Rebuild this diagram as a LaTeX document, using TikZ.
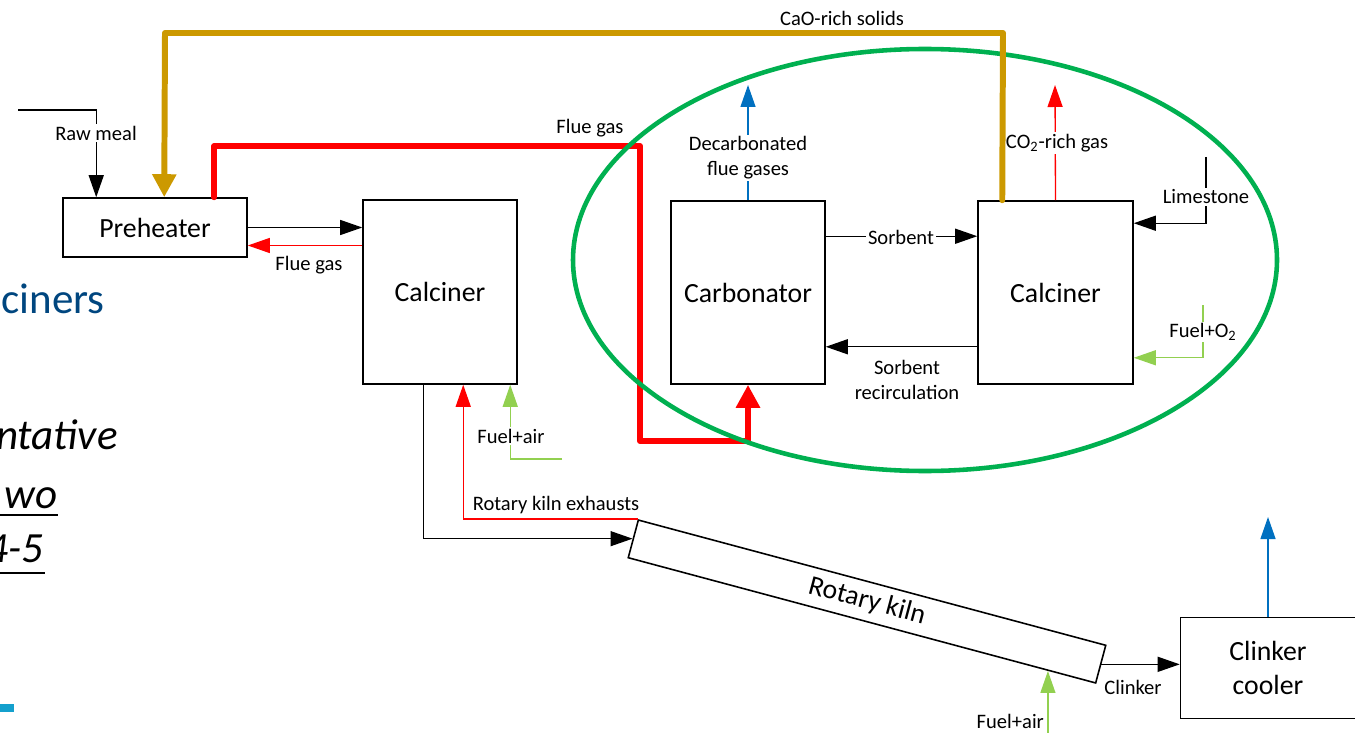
\documentclass[tikz,border=0pt]{standalone}
\usepackage{fontspec}
\setmainfont{Carlito}
\usetikzlibrary{arrows.meta,calc}

\definecolor{FlueRed}{RGB}{255,0,0}
\definecolor{SolidGold}{RGB}{204,153,0}
\definecolor{LoopGreen}{RGB}{0,176,80}
\definecolor{FuelGreen}{RGB}{146,208,80}
\definecolor{VentBlue}{RGB}{0,112,192}
\definecolor{SlideBlue}{RGB}{0,70,127}
\definecolor{SlideCyan}{RGB}{20,160,205}

\begin{document}
\begin{tikzpicture}[
    x=0.02cm, y=-0.02cm,
    unit/.style={draw, line width=0.9pt, fill=white, align=center, inner sep=0pt, font=\fontsize{15.8}{19.3}\selectfont},
    note/.style={align=center, inner sep=1pt, font=\fontsize{11.7}{14.2}\selectfont},
    online/.style={note, fill=white},
    slide/.style={anchor=base east, inner sep=0pt, font=\fontsize{24.5}{29}\selectfont\itshape},
    flow/.style={line width=0.75pt, -{Triangle[length=0.44cm, width=0.3cm]}},
    gasflow/.style={flow, FlueRed},
    fuelflow/.style={flow, FuelGreen},
    ventflow/.style={flow, VentBlue},
    fluepipe/.style={line width=3.4pt, FlueRed, line join=round, line cap=round, -{Triangle[length=0.46cm, width=0.46cm]}},
    solidpipe/.style={line width=3.4pt, SolidGold, line join=round, line cap=round, -{Triangle[length=0.46cm, width=0.46cm]}},
    ring/.style={line width=2.6pt, LoopGreen}
  ]
    \useasboundingbox (0,0) rectangle (1355,733);

    % slide behind the figure
    \node[slide, font=\fontsize{24.5}{29}\selectfont, text=SlideBlue] (slidetitle) at (105,313) {ciners};
    \node[slide] (slideA) at (118,449) {ntative};
    \node[slide] (slideB) at (58,508) {wo};
    \node[slide] (slideC) at (44,562) {4-5};
    \draw[line width=1.6pt] (0,515) -- (slideB.base east |- 0,515);
    \draw[line width=1.6pt] (0,573) -- (45,573);
    \fill[SlideCyan] (0,704) rectangle (14,712);

    % cement plant
    \node[unit, minimum width=3.68cm, minimum height=1.18cm] (pre) at (155,227.5) {Preheater};
    \node[unit, minimum width=3.08cm, minimum height=3.68cm] (calc) at (440,292) {Calciner};
    \node[unit, rotate=-15, minimum width=9.68cm, minimum height=0.78cm] (kiln) at (867,601.5) {Rotary kiln};
    \node[unit, minimum width=3.5cm, minimum height=2.02cm] (cool) at (1268,668) {Clinker\\cooler};

    % calcium looping
    \node[unit, minimum width=3.08cm, minimum height=3.66cm] (carb) at (748,292.5) {Carbonator};
    \node[unit, minimum width=3.1cm, minimum height=3.66cm] (regen) at (1055.5,292.5) {Calciner};

    % free ends
    \coordinate (rawin) at (18,110);
    \coordinate (fgup) at (640,146);
    \coordinate (fgdown) at (640,441);
    \coordinate (caoR) at (1003,33);
    \coordinate (caoL) at (165,33);
    \coordinate (fuelA) at (562,459);
    \coordinate (fuelK) at (1048,733);
    \coordinate (coolout) at (1268,517);
    \coordinate (carbout) at (748,85);
    \coordinate (regenout) at (1055,85);
    \coordinate (limein) at (1206,157);
    \coordinate (oxyin) at (1203,305);
    \coordinate (pfg) at ($(pre.east)+(0,18)$);
    \coordinate (sorb) at ($(carb.north east)+(0,36)$);
    \coordinate (recirc) at ($(regen.south west)+(0,-38)$);
    \coordinate (kfuel) at ($(kiln.south west)!0.897!(kiln.south east)$);

    % plant streams
    \draw[flow] (rawin) -| ($(pre.north west)+(34,0)$);
    \draw[flow] (pre.east) -- (pre.east -| calc.west);
    \draw[gasflow] (pfg -| calc.west) -- (pfg);
    \draw[flow] ($(calc.south west)+(61,0)$) |- (kiln.west);
    \draw[gasflow] (kiln.north west) -| ($(calc.south west)+(101,0)$);
    \draw[fuelflow] (fuelA) -| ($(calc.south west)+(148,0)$);
    \draw[fuelflow] (kfuel |- fuelK) -- (kfuel);
    \draw[flow] (kiln.east) -- (kiln.east -| cool.west);
    \draw[ventflow] (cool.north) -- (coolout);

    % looping streams
    \draw[fluepipe] ($(pre.north west)+(152,0)$) |- (fgup) -- (fgdown) -| (carb.south);
    \draw[ventflow] (carb.north) -- (carbout);
    \draw[flow] (sorb) -- (sorb -| regen.west);
    \draw[flow] (recirc) -- (recirc -| carb.east);
    \draw[gasflow] (regen.north) -- (regenout);
    \draw[flow] (limein) |- ($(regen.north east)+(0,23)$);
    \draw[fuelflow] (oxyin) |- ($(regen.south east)+(0,-27)$);

    \draw[ring] (925,260) ellipse [x radius=352, y radius=211];

    % labels
    \node[online] (lraw) at (96,133) {Raw meal};
    \node[note] (lflue) at (590,128) {Flue gas};
    \node[note] (lflueback) at (309,265) {Flue gas};
    \node[online] (lfuelA) at (511,436) {Fuel+air};
    \node[note] (lexh) at (556,505) {Rotary kiln exhausts};
    \node[note, anchor=east] (lfuelK) at (1046,721) {Fuel+air};
    \node[note] (lclinker) at (1133,687) {Clinker};
    \node[online] (ldecarb) at (748,158) {Decarbonated\\flue gases};
    \node[online] (lsorb) at (901,237) {Sorbent};
    \node[note] (lrecirc) at (907,380) {Sorbent\\recirculation};
    \node[online] (lco2) at (1057,143) {CO\textsubscript{2}-rich gas};
    \node[online] (llime) at (1206,197) {Limestone};
    \node[online] (loxy) at (1203,332) {Fuel+O\textsubscript{2}};
    \node[note] (lcao) at (842,18) {CaO-rich solids};

    \draw[solidpipe] ($(regen.north west)+(25,0)$) -- (caoR) -- (caoL) -- ($(pre.north west)+(102,0)$);
\end{tikzpicture}
\end{document}
